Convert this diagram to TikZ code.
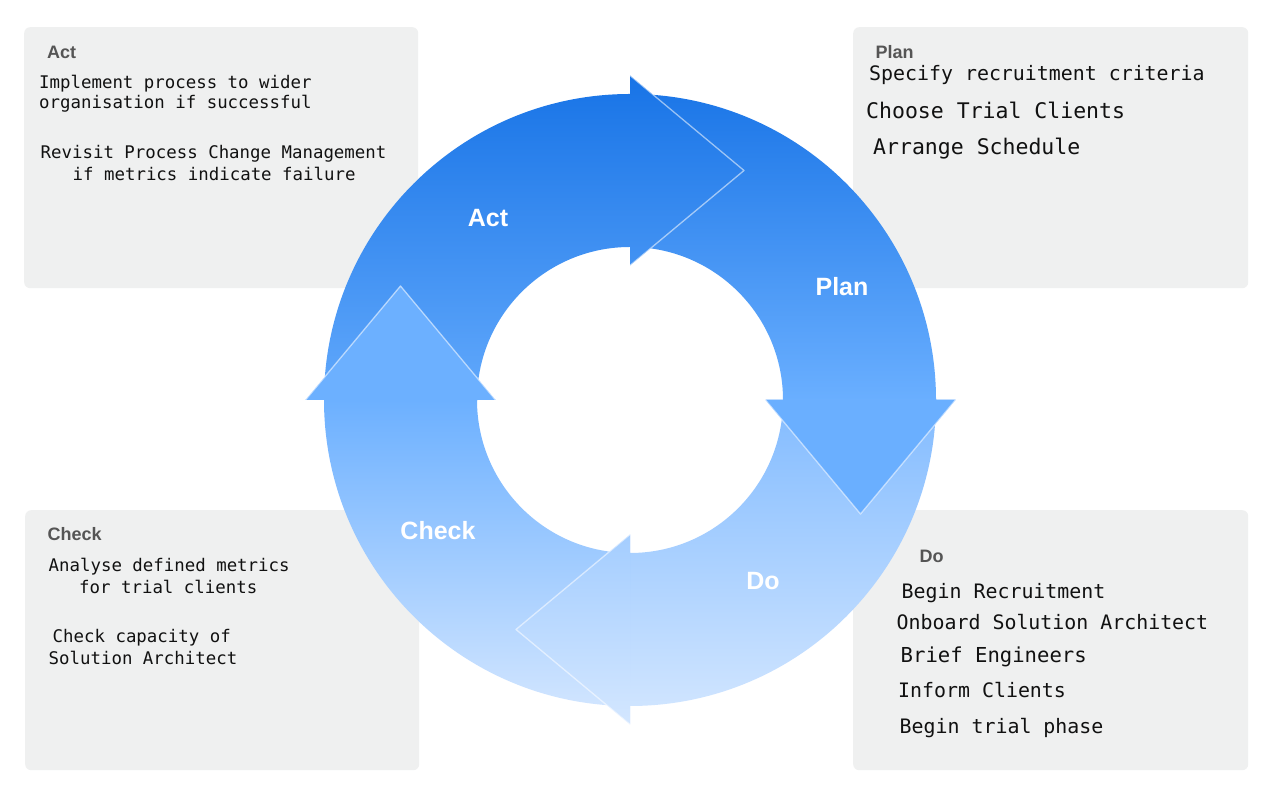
\documentclass[tikz,border=0pt]{standalone}
\usepackage{fontspec}
\setmainfont{Liberation Sans}
\newfontfamily\pdcamono{DejaVu Sans Mono}
\definecolor{boxgray}{HTML}{EFF0F0}
\definecolor{hdrgray}{HTML}{555555}
\definecolor{txtblack}{HTML}{111111}
\definecolor{actTop}{HTML}{1773E6}
\definecolor{actBot}{HTML}{62A9FC}
\definecolor{planBot}{HTML}{6AAFFF}
\definecolor{checkTop}{HTML}{6CB0FF}
\definecolor{checkBot}{HTML}{D1E5FF}
\definecolor{doTop}{HTML}{82BBFF}
\definecolor{doBot}{HTML}{D4E7FF}
\newcommand\pdcaPaintAct{\shade[top color=actTop,bottom color=actBot] (290,396) rectangle (980,724);}
\newcommand\pdcaPaintPlan{\fill[planBot] (290,270) rectangle (980,398);
  \shade[top color=actTop,bottom color=planBot] (290,397) rectangle (980,724);}
\newcommand\pdcaPaintDo{\shade[top color=doTop,bottom color=doBot] (290,70) rectangle (980,399);}
\newcommand\pdcaPaintCheck{\fill[checkTop] (290,396) rectangle (980,515);
  \shade[top color=checkTop,bottom color=checkBot] (290,89) rectangle (980,397);}
\begin{document}
\begin{tikzpicture}[x=1pt,y=1pt,
  panel/.style={fill=boxgray, draw=none, rounded corners=6pt, inner sep=0pt, anchor=north west},
  hdr/.style={font=\fontsize{18}{20}\selectfont\bfseries, text=hdrgray, inner sep=0pt, anchor=base west},
  txts/.style={font=\pdcamono\fontsize{17.4}{20}\selectfont, text=txtblack, inner sep=0pt, anchor=base west},
  txtm/.style={font=\pdcamono\fontsize{19.9}{22}\selectfont, text=txtblack, inner sep=0pt, anchor=base west},
  txtl/.style={font=\pdcamono\fontsize{21.5}{24}\selectfont, text=txtblack, inner sep=0pt, anchor=base west},
  ringlbl/.style={font=\fontsize{25}{28}\selectfont\bfseries, text=white, inner sep=0pt, anchor=base},
  headedge/.style={draw=white, draw opacity=0.55, line width=1.3pt, line join=round, line cap=round}]
\fill[white] (0,0) rectangle (1265,797);
\useasboundingbox (0,0) rectangle (1265,797);

% panels
\node[panel, minimum width=394pt, minimum height=261pt] (actbox) at (24,770) {};
\node[panel, minimum width=395pt, minimum height=261pt] (planbox) at (853,770) {};
\node[panel, minimum width=394pt, minimum height=260pt] (checkbox) at (25,287) {};
\node[panel, minimum width=395pt, minimum height=260pt] (dobox) at (853,287) {};

% ring bodies
\begin{scope}
\clip (324,397) arc[start angle=180,end angle=90,radius=306] -- (630,721.5) -- (744,626.5) -- (630,531.5) -- (630,550) arc[start angle=90,end angle=180,radius=153] -- cycle;
\pdcaPaintAct
\end{scope}
\begin{scope}
\clip (630,703) arc[start angle=90,end angle=0,radius=306] -- (955.5,397) -- (860.5,283) -- (765.5,397) -- (783,397) arc[start angle=0,end angle=90,radius=153] -- cycle;
\pdcaPaintPlan
\end{scope}
\begin{scope}
\clip (936,397) arc[start angle=0,end angle=-90,radius=306] -- (630,72.5) -- (516,167.5) -- (630,262.5) -- (630,244) arc[start angle=-90,end angle=0,radius=153] -- cycle;
\pdcaPaintDo
\end{scope}
\begin{scope}
\clip (630,91) arc[start angle=270,end angle=180,radius=306] -- (305.5,397) -- (400.5,511) -- (495.5,397) -- (477,397) arc[start angle=180,end angle=270,radius=153] -- cycle;
\pdcaPaintCheck
\end{scope}

% arrowheads on top
\begin{scope}
\clip (630,721.5) -- (744,626.5) -- (630,531.5) -- cycle;
\pdcaPaintAct
\end{scope}
\begin{scope}
\clip (955.5,397) -- (860.5,283) -- (765.5,397) -- cycle;
\pdcaPaintPlan
\end{scope}
\begin{scope}
\clip (630,72.5) -- (516,167.5) -- (630,262.5) -- cycle;
\pdcaPaintDo
\end{scope}
\begin{scope}
\clip (305.5,397) -- (400.5,511) -- (495.5,397) -- cycle;
\pdcaPaintCheck
\end{scope}
\draw[headedge] (630,721.5) -- (744,626.5) -- (630,531.5);
\draw[headedge] (955.5,397) -- (860.5,283) -- (765.5,397);
\draw[headedge] (630,72.5) -- (516,167.5) -- (630,262.5);
\draw[headedge] (305.5,397) -- (400.5,511) -- (495.5,397);

% ring labels
\node[ringlbl] (lblact) at (488,570) {Act};
\node[ringlbl] (lblplan) at (842,501) {Plan};
\node[ringlbl] (lblcheck) at (438,257) {Check};
\node[ringlbl] (lbldo) at (763,207) {Do};

% Act panel text
\node[hdr] (acthdr) at (47,738.7) {Act};
\node[txts] (act1) at (39,708.7) {Implement process to wider};
\node[txts] (act2) at (39,688.7) {organisation if successful};
\node[txts] (act3) at (40.5,638.7) {Revisit Process Change Management};
\node[txts] (act4) at (72.5,616) {if metrics indicate failure};

% Plan panel text
\node[hdr] (planhdr) at (875.5,738.7) {Plan};
\node[txtm] (plan1) at (869,716) {Specify recruitment criteria};
\node[txtl] (plan2) at (866,678.7) {Choose Trial Clients};
\node[txtl] (plan3) at (873,642.7) {Arrange Schedule};

% Check panel text
\node[hdr] (checkhdr) at (47.5,256.3) {Check};
\node[txts] (check1) at (48.5,225.3) {Analyse defined metrics};
\node[txts] (check2) at (79,203.7) {for trial clients};
\node[txts] (check3) at (52.5,154.3) {Check capacity of};
\node[txts] (check4) at (48.5,132) {Solution Architect};

% Do panel text
\node[hdr] (dohdr) at (919.5,234.3) {Do};
\node[txtm] (do1) at (901.5,198) {Begin Recruitment};
\node[txtm] (do2) at (896.5,167.7) {Onboard Solution Architect};
\node[txtm, font=\pdcamono\fontsize{20.6}{23}\selectfont] (do3) at (900.5,134.7) {Brief Engineers};
\node[txtm] (do4) at (898,99.7) {Inform Clients};
\node[txtm] (do5) at (899.5,63.7) {Begin trial phase};
\end{tikzpicture}
\end{document}
